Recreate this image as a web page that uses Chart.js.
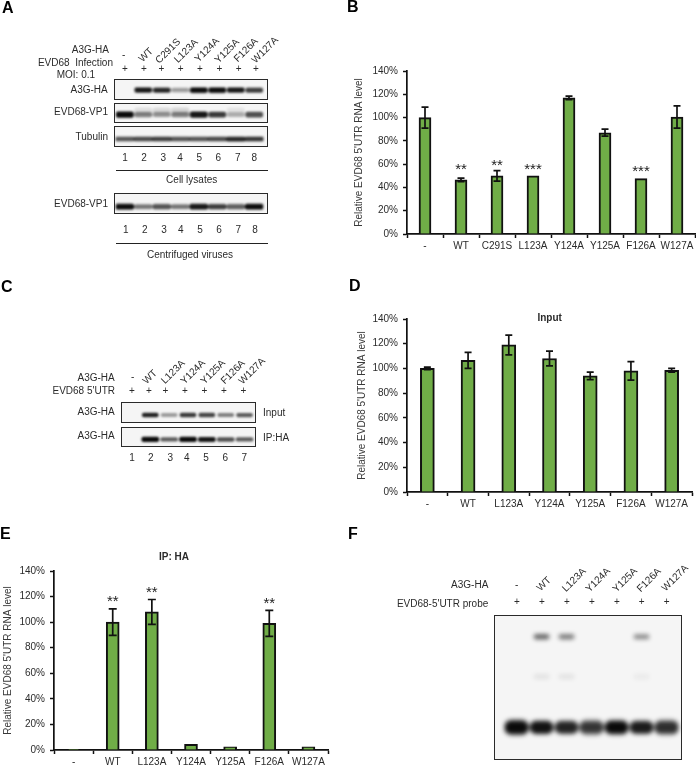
<!DOCTYPE html>
<html>
<head>
<meta charset="utf-8">
<title>A3G mutants and EVD68 5'UTR</title>
<script src="https://cdn.jsdelivr.net/npm/chart.js@4"></script>
<style>
  html, body { margin: 0; padding: 0; background: #fff; }
  #page { position: relative; width: 696px; height: 766px; overflow: hidden; font-family: "Liberation Sans", Arial, sans-serif; color: #2b2b2b; opacity: 0.999; }
  .txt { position: absolute; font-size: 10px; line-height: 12px; white-space: pre; }
  .letter { position: absolute; font-size: 16px; line-height: 16px; font-weight: bold; color: #000; }
  .title { position: absolute; font-size: 10px; line-height: 12px; font-weight: bold; }
  .rule { position: absolute; height: 1px; background: #222; }
  .blot { position: absolute; box-sizing: border-box; border: 1.3px solid #2a2a2a; overflow: hidden; background: #f5f5f5; }
  .plot { position: absolute; }
</style>
</head>
<body>
<div id="page"></div>
<script>
// ============ Data ============
const bCategories = ['-', 'WT', 'C291S', 'L123A', 'Y124A', 'Y125A', 'F126A', 'W127A'];
const bValues = [100, 46.5, 50, 50, 117, 87, 47.5, 100.5];
const bErrors = [9, 1.5, 4.5, 0, 1.5, 3, 0, 9.5];
const bStars = ['', '**', '**', '***', '', '', '***', ''];
const bStarLevels = [0, 57.5, 61.5, 57.5, 0, 0, 56, 0];

const dCategories = ['-', 'WT', 'L123A', 'Y124A', 'Y125A', 'F126A', 'W127A'];
const dValues = [100, 106.5, 119, 108, 94, 98, 98.5];
const dErrors = [1, 6.5, 8, 6, 3, 7.5, 1.5];

const eCategories = ['-', 'WT', 'L123A', 'Y124A', 'Y125A', 'F126A', 'W127A'];
const eValues = [0.5, 100, 108, 4.5, 2.5, 99, 2.5];
const eErrors = [0, 10.3, 9.7, 0, 0, 10.2, 0];
const eStars = ['', '**', '**', '', '', '**', ''];
const eStarLevels = [0, 118.5, 125.5, 0, 0, 117, 0];

const percentTicks = [0, 20, 40, 60, 80, 100, 120, 140];
const yAxisLabel = "Relative EVD68 5'UTR RNA level";

// band strength per lane, 0 = no band
const lanesA = ['1', '2', '3', '4', '5', '6', '7', '8'];
const a3gHaBands = [0, 0.95, 0.9, 0.4, 1, 1, 0.95, 0.8];
const vp1Bands = [1, 0.5, 0.42, 0.5, 0.95, 0.8, 0.3, 0.7];
const vp1SmearBands = [0, 0.1, 0.12, 0.14, 0, 0, 0.08, 0];
const tubulinBands = [0.7, 0.75, 0.8, 0.7, 0.7, 0.75, 0.9, 0.85];
const virusVp1Bands = [1, 0.55, 0.7, 0.55, 0.95, 0.8, 0.65, 1];

const lanesC = ['1', '2', '3', '4', '5', '6', '7'];
const inputBands = [0, 0.9, 0.38, 0.8, 0.75, 0.5, 0.65];
const ipBands = [0, 1, 0.65, 1, 0.95, 0.7, 0.65];

const shiftedProbeBands = [0, 0.6, 0.5, 0, 0, 0.45, 0];
const faintProbeBands = [0, 0.08, 0.08, 0, 0, 0.05, 0];
const probeHaloBands = [0.5, 0.3, 0.3, 0.4, 0.4, 0.3, 0.4];
const freeProbeBands = [1, 0.95, 0.85, 0.7, 1, 0.9, 0.75];

// ============ Helpers ============
const page = document.getElementById('page');

function addText(text, x, y, opts = {}) {
    const el = document.createElement('div');
    el.className = opts.cls || 'txt';
    el.textContent = text;
    el.style.top = (y - 6) + 'px';
    if (opts.align === 'right') {
        el.style.right = (696 - x) + 'px';
    } else if (opts.align === 'center') {
        el.style.left = x + 'px';
        el.style.transform = 'translateX(-50%)' + (opts.rotate ? ` rotate(${opts.rotate}deg)` : '');
    } else {
        el.style.left = x + 'px';
    }
    page.appendChild(el);
}

function addRow(labels, xs, y) {
    labels.forEach((t, i) => addText(t, xs[i], y, { align: 'center' }));
}

function addRule(x0, x1, y) {
    const el = document.createElement('div');
    el.className = 'rule';
    el.style.left = x0 + 'px';
    el.style.width = (x1 - x0) + 'px';
    el.style.top = y + 'px';
    page.appendChild(el);
}

function addCanvas(parent, x, y, w, h) {
    const c = document.createElement('canvas');
    c.width = w;
    c.height = h;
    c.className = 'plot';
    c.style.left = x + 'px';
    c.style.top = y + 'px';
    c.style.width = w + 'px';
    c.style.height = h + 'px';
    parent.appendChild(c);
    return c;
}

// error bars and significance stars, placed through the chart's own scales
const annotations = {
    id: 'annotations',
    afterDatasetsDraw(chart, args, opts) {
        const { ctx, scales: { x, y } } = chart;
        ctx.save();
        ctx.strokeStyle = '#111';
        ctx.lineWidth = 1.7;
        opts.errors.forEach((err, i) => {
            if (!err) return;
            const px = x.getPixelForValue(i);
            const hi = y.getPixelForValue(opts.values[i] + err);
            const lo = y.getPixelForValue(opts.values[i] - err);
            ctx.beginPath();
            ctx.moveTo(px, hi);
            ctx.lineTo(px, lo);
            ctx.moveTo(px - opts.cap, hi);
            ctx.lineTo(px + opts.cap, hi);
            ctx.moveTo(px - opts.cap, lo);
            ctx.lineTo(px + opts.cap, lo);
            ctx.stroke();
        });
        ctx.fillStyle = '#222';
        ctx.font = '15px "Liberation Sans"';
        ctx.textAlign = 'center';
        ctx.textBaseline = 'middle';
        (opts.stars || []).forEach((s, i) => {
            if (s) ctx.fillText(s, x.getPixelForValue(i), y.getPixelForValue(opts.starLevels[i]) + 3);
        });
        ctx.restore();
    }
};

// ============ Bar charts ============
function barChart(box, categories, values, errors, stars, starLevels) {
    const canvas = addCanvas(page, box.x, box.y, box.w, box.h);
    const tickFont = { family: '"Liberation Sans"', size: 10 };
    return new Chart(canvas.getContext('2d'), {
        type: 'bar',
        data: {
            labels: categories,
            datasets: [{
                data: values,
                backgroundColor: '#70ad47',
                borderColor: '#111',
                borderWidth: 2,
                barThickness: box.barWidth
            }]
        },
        plugins: [annotations],
        options: {
            responsive: false,
            animation: false,
            layout: { padding: { top: box.top, right: box.right, left: 0, bottom: 0 } },
            plugins: {
                legend: { display: false },
                tooltip: { enabled: false },
                annotations: { values, errors, stars, starLevels, cap: box.cap }
            },
            scales: {
                x: {
                    afterFit: s => { s.height = box.bottom; },
                    border: { color: '#111', width: 1.7 },
                    grid: { drawOnChartArea: false, offset: true, tickLength: 4, tickColor: '#111', tickWidth: 1.5 },
                    ticks: { color: '#2b2b2b', font: tickFont, maxRotation: 0, autoSkip: false, padding: 2 }
                },
                y: {
                    min: 0,
                    max: 140,
                    afterFit: s => { s.width = box.left; },
                    afterBuildTicks: s => { s.ticks = percentTicks.map(v => ({ value: v })); },
                    border: { color: '#111', width: 1.7 },
                    grid: { drawOnChartArea: false, tickLength: 4, tickColor: '#111', tickWidth: 1.5 },
                    ticks: { color: '#2b2b2b', font: tickFont, padding: 5, callback: v => v + '%' },
                    title: { display: true, text: yAxisLabel, color: '#3a3a3a', font: tickFont, padding: { top: box.titlePad, bottom: 0 } }
                }
            }
        }
    });
}

barChart({ x: 340, y: 60, w: 356, h: 195, left: 67, right: 1, top: 8, bottom: 21, barWidth: 12, cap: 3.5, titlePad: 13 },
    bCategories, bValues, bErrors, bStars, bStarLevels);
barChart({ x: 340, y: 308, w: 356, h: 205, left: 67, right: 4, top: 10, bottom: 21, barWidth: 14, cap: 3.5, titlePad: 16 },
    dCategories, dValues, dErrors, [], []);
barChart({ x: 0, y: 560, w: 340, h: 206, left: 54, right: 12, top: 10, bottom: 16, barWidth: 13, cap: 4, titlePad: 2 },
    eCategories, eValues, eErrors, eStars, eStarLevels);

addText('Input', 549.7, 318, { cls: 'title', align: 'center' });
addText('IP: HA', 174, 556.5, { cls: 'title', align: 'center' });

// ============ Blots ============
// each band is a floating bar on a 0-1 gel axis
function blot(box, lanes, tracks, blur) {
    const wrap = document.createElement('div');
    wrap.className = 'blot';
    wrap.style.left = box.x + 'px';
    wrap.style.top = box.y + 'px';
    wrap.style.width = box.w + 'px';
    wrap.style.height = box.h + 'px';
    page.appendChild(wrap);
    const canvas = addCanvas(wrap, -1, -1, box.w, box.h);
    canvas.style.filter = `blur(${blur}px)`;
    new Chart(canvas.getContext('2d'), {
        type: 'bar',
        data: {
            labels: lanes,
            datasets: tracks.map(t => ({
                data: t.bands.map(v => v > 0 ? [t.pos - t.size * (0.6 + 0.4 * v), t.pos + t.size * (0.6 + 0.4 * v)] : null),
                backgroundColor: t.bands.map(v => `rgba(10,10,10,${v})`),
                barThickness: t.width,
                borderRadius: t.radius || 2,
                borderSkipped: false,
                grouped: false
            }))
        },
        options: {
            responsive: false,
            animation: false,
            layout: { padding: { left: box.padL, right: box.padR, top: 0, bottom: 0 } },
            plugins: { legend: { display: false }, tooltip: { enabled: false } },
            scales: {
                x: { display: false },
                y: { display: false, min: 0, max: 1 }
            }
        }
    });
}

const laneXA = [125, 144, 163.3, 180, 199.3, 218.3, 237.7, 254.3];
const plusXA = [125, 144, 161.3, 180.7, 200, 219.3, 238.7, 256];
const blotA = { x: 114.3, w: 153.4, h: 20.5, padL: 1.5, padR: 4.5 };
blot({ ...blotA, y: 79 }, lanesA, [{ bands: a3gHaBands, pos: 0.47, size: 0.11, width: 17 }], 0.9);
blot({ ...blotA, y: 102.7 }, lanesA, [
    { bands: vp1SmearBands, pos: 0.62, size: 0.2, width: 17 },
    { bands: vp1Bands, pos: 0.42, size: 0.14, width: 17 }
], 1);
blot({ ...blotA, y: 126.3 }, lanesA, [{ bands: tubulinBands, pos: 0.38, size: 0.1, width: 19 }], 0.8);
blot({ ...blotA, x: 113.7, w: 154, y: 193.3 }, lanesA, [{ bands: virusVp1Bands, pos: 0.35, size: 0.12, width: 18 }], 0.9);

const laneXC = [132, 150.7, 170.3, 186.7, 206, 225.3, 244.3];
const plusXC = [132, 149, 165.3, 185, 204.3, 224, 243.3];
const blotC = { x: 121, w: 135, padL: 1, padR: 2 };
blot({ ...blotC, y: 402.3, h: 21 }, lanesC, [{ bands: inputBands, pos: 0.38, size: 0.1, width: 16 }], 0.8);
blot({ ...blotC, y: 426.7, h: 20.5 }, lanesC, [{ bands: ipBands, pos: 0.38, size: 0.11, width: 17 }], 0.8);

const laneXF = [517, 542, 567, 592, 617, 641.7, 666.7];
blot({ x: 494.3, y: 615, w: 187.7, h: 145, padL: 10, padR: 3 }, lanesC, [
    { bands: shiftedProbeBands, pos: 0.85, size: 0.02, width: 15, radius: 4 },
    { bands: faintProbeBands, pos: 0.575, size: 0.025, width: 15, radius: 4 },
    { bands: probeHaloBands, pos: 0.225, size: 0.07, width: 25, radius: 8 },
    { bands: freeProbeBands, pos: 0.225, size: 0.04, width: 22, radius: 6 }
], 2.2);

// ============ Text ============
addText('A', 2, 6, { cls: 'letter' });
addText('B', 347, 5, { cls: 'letter' });
addText('C', 1, 285, { cls: 'letter' });
addText('D', 349, 284, { cls: 'letter' });
addText('E', 0, 532, { cls: 'letter' });
addText('F', 348, 532, { cls: 'letter' });

// panel A
addText('A3G-HA', 109, 49.7, { align: 'right' });
addText('EVD68  Infection', 113, 62.7, { align: 'right' });
addText('MOI: 0.1', 56.7, 74.7);
addText('-', 123.7, 55, { align: 'center' });
addRow(lanesA.map(() => '+'), plusXA, 68.7);
addText('A3G-HA', 107.7, 90, { align: 'right' });
addText('EVD68-VP1', 108, 112, { align: 'right' });
addText('Tubulin', 108, 137, { align: 'right' });
addRow(lanesA, laneXA, 157.7);
addRule(115.7, 267.7, 170);
addText('Cell lysates', 191.7, 180.3, { align: 'center' });
addText('EVD68-VP1', 108, 204, { align: 'right' });
addRow(lanesA, laneXA.map(v => v + 0.7), 230);
addRule(115.7, 267.7, 242.7);
addText('Centrifuged viruses', 190, 254.7, { align: 'center' });
bCategories.slice(1).forEach((t, i) => {
    const xs = [146, 167.7, 185.7, 206.7, 226.7, 246, 265];
    const ys = [55, 50.7, 50.7, 50, 50.7, 50, 50];
    addText(t, xs[i], ys[i], { align: 'center', rotate: -45 });
});

// panel C
addText('A3G-HA', 114.7, 377.7, { align: 'right' });
addText("EVD68 5'UTR", 115, 391.3, { align: 'right' });
addText('-', 132.7, 377, { align: 'center' });
addRow(lanesC.map(() => '+'), plusXC, 390.7);
addText('A3G-HA', 114.7, 412, { align: 'right' });
addText('A3G-HA', 114.7, 436, { align: 'right' });
addText('Input', 263, 413);
addText('IP:HA', 263, 437.7);
addRow(lanesC, laneXC, 458.3);
dCategories.slice(1).forEach((t, i) => {
    const xs = [150, 172.7, 193.3, 213.3, 232.7, 252.3];
    const ys = [376.7, 372.3, 371.7, 372.3, 372, 371];
    addText(t, xs[i], ys[i], { align: 'center', rotate: -45 });
});

// panel F
addText('A3G-HA', 488.3, 585, { align: 'right' });
addText("EVD68-5'UTR probe", 488.3, 604.3, { align: 'right' });
addText('-', 516.7, 585, { align: 'center' });
addRow(lanesC.map(() => '+'), laneXF, 602.3);
eCategories.slice(1).forEach((t, i) => {
    const xs = [544.3, 574.3, 598.3, 625, 649.3, 675];
    const ys = [584, 580, 580, 580, 580, 578.3];
    addText(t, xs[i], ys[i], { align: 'center', rotate: -45 });
});
</script>
</body>
</html>
